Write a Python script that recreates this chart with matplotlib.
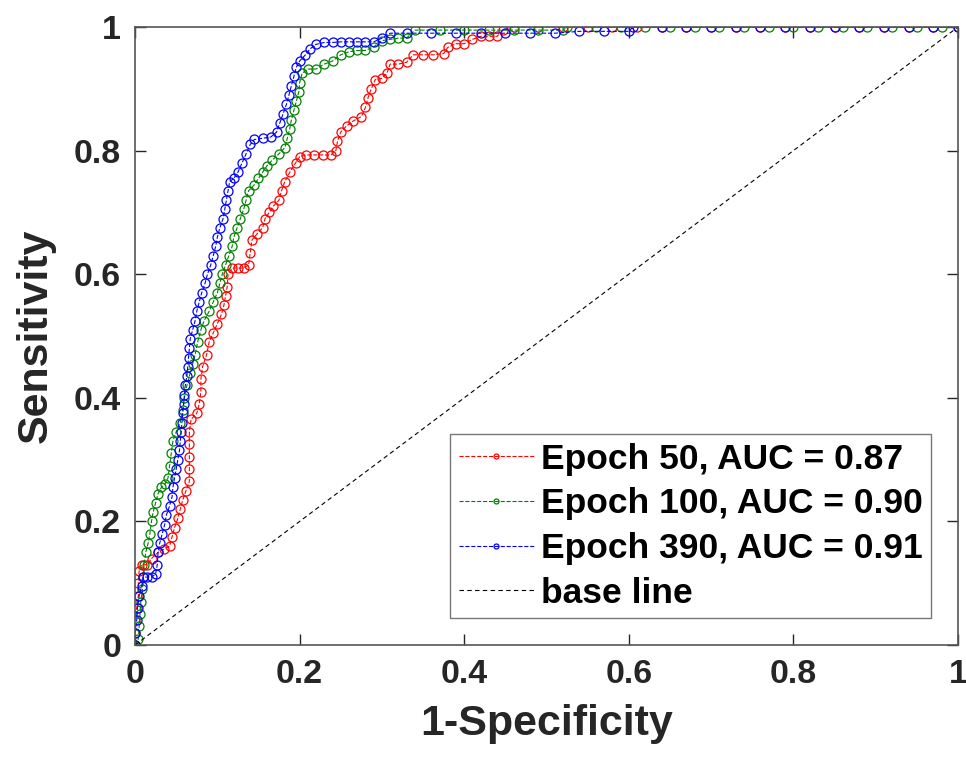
import matplotlib
matplotlib.use("Agg")
import matplotlib.pyplot as plt

plt.rcParams["font.family"] = ["Liberation Sans", "DejaVu Sans"]
plt.rcParams["font.weight"] = "bold"

# ROC points (FPR, TPR)
red_fpr = [0, 0, 0, 0.002, 0.004, 0.004, 0.005, 0.008, 0.015, 0.02, 0.028, 0.035, 0.042, 0.045,
           0.048, 0.052, 0.055, 0.058, 0.062, 0.066, 0.066, 0.066, 0.066, 0.066, 0.068, 0.075,
           0.078, 0.08, 0.08, 0.082, 0.087, 0.09, 0.095, 0.10, 0.105, 0.108, 0.11, 0.112, 0.113,
           0.118, 0.125, 0.132, 0.138, 0.14, 0.142, 0.148, 0.155, 0.158, 0.163, 0.168, 0.175,
           0.178, 0.182, 0.188, 0.195, 0.20, 0.208, 0.218, 0.228, 0.238, 0.244, 0.246, 0.25,
           0.257, 0.265, 0.275, 0.28, 0.283, 0.287, 0.292, 0.30, 0.306, 0.31, 0.32, 0.33, 0.338,
           0.35, 0.362, 0.375, 0.38, 0.39, 0.40, 0.41, 0.42, 0.43, 0.44, 0.447, 0.46, 0.49, 0.52,
           0.55, 0.58, 0.61, 0.64, 0.67, 0.70, 0.73, 0.76, 0.79, 0.82, 0.85, 0.88, 0.91, 0.94,
           0.97, 1.0]
red_tpr = [0, 0.02, 0.04, 0.06, 0.08, 0.10, 0.12, 0.13, 0.13, 0.14, 0.15, 0.155, 0.16, 0.175,
           0.19, 0.205, 0.22, 0.235, 0.25, 0.265, 0.285, 0.305, 0.325, 0.345, 0.365, 0.375,
           0.39, 0.41, 0.43, 0.45, 0.47, 0.49, 0.505, 0.52, 0.535, 0.55, 0.565, 0.58, 0.60,
           0.61, 0.61, 0.61, 0.615, 0.635, 0.655, 0.665, 0.675, 0.69, 0.70, 0.71, 0.72,
           0.735, 0.75, 0.765, 0.78, 0.79, 0.793, 0.793, 0.793, 0.793, 0.80, 0.815, 0.83,
           0.84, 0.848, 0.855, 0.87, 0.885, 0.90, 0.915, 0.917, 0.925, 0.94, 0.94, 0.943, 0.955,
           0.955, 0.955, 0.957, 0.967, 0.973, 0.973, 0.98, 0.985, 0.985, 0.985, 0.995, 1.0, 1.0, 1.0,
           1.0, 1.0, 1.0, 1.0, 1.0, 1.0, 1.0, 1.0, 1.0, 1.0, 1.0, 1.0, 1.0, 1.0,
           1.0, 1.0]

green_fpr = [0, 0.004, 0.005, 0.006, 0.007, 0.009, 0.01, 0.011, 0.013, 0.016, 0.018, 0.02, 0.022,
             0.025, 0.028, 0.032, 0.036, 0.04, 0.042, 0.044, 0.046, 0.05, 0.055, 0.058, 0.06,
             0.063, 0.067, 0.07, 0.073, 0.076, 0.08, 0.084, 0.09, 0.095, 0.10, 0.103, 0.106,
             0.11, 0.114, 0.118, 0.12, 0.124, 0.128, 0.132, 0.135, 0.138, 0.145, 0.15, 0.155,
             0.16, 0.167, 0.175, 0.182, 0.185, 0.188, 0.19, 0.193, 0.196, 0.199, 0.2, 0.203,
             0.21, 0.22, 0.23, 0.24, 0.25, 0.26, 0.27, 0.28, 0.29, 0.30, 0.31, 0.32, 0.33,
             0.34, 0.37, 0.40, 0.43, 0.46, 0.49, 0.52, 0.525, 0.56, 0.59, 0.62, 0.65, 0.68,
             0.71, 0.74, 0.77, 0.80, 0.83, 0.86, 0.89, 0.92, 0.95, 0.98, 1.0]
green_tpr = [0, 0.01, 0.03, 0.05, 0.07, 0.09, 0.11, 0.13, 0.15, 0.165, 0.18, 0.20, 0.215,
             0.23, 0.245, 0.255, 0.26, 0.27, 0.29, 0.31, 0.33, 0.345, 0.36, 0.38, 0.40,
             0.42, 0.44, 0.455, 0.47, 0.49, 0.51, 0.525, 0.54, 0.555, 0.57, 0.585, 0.60,
             0.615, 0.63, 0.645, 0.66, 0.675, 0.69, 0.705, 0.72, 0.735, 0.745, 0.755, 0.765,
             0.775, 0.785, 0.795, 0.805, 0.82, 0.835, 0.85, 0.865, 0.88, 0.895, 0.91, 0.925,
             0.932, 0.932, 0.94, 0.945, 0.955, 0.96, 0.962, 0.962, 0.968, 0.978, 0.98, 0.982, 0.982,
             0.995, 0.995, 0.995, 0.995, 0.995, 0.995, 0.995, 1.0, 1.0, 1.0, 1.0, 1.0, 1.0,
             1.0, 1.0, 1.0, 1.0, 1.0, 1.0, 1.0, 1.0, 1.0, 1.0, 1.0]

blue_fpr = [0, 0, 0.002, 0.003, 0.005, 0.008, 0.01, 0.015, 0.02, 0.025, 0.027, 0.028, 0.03,
            0.033, 0.036, 0.038, 0.042, 0.045, 0.046, 0.048, 0.05, 0.052, 0.054, 0.055, 0.056,
            0.057, 0.058, 0.059, 0.06, 0.061, 0.063, 0.064, 0.065, 0.066, 0.067, 0.07, 0.073,
            0.075, 0.078, 0.081, 0.085, 0.088, 0.092, 0.095, 0.098, 0.10, 0.103, 0.107, 0.109,
            0.111, 0.113, 0.115, 0.12, 0.125, 0.13, 0.135, 0.14, 0.145, 0.155, 0.165, 0.172,
            0.176, 0.18, 0.184, 0.187, 0.19, 0.193, 0.196, 0.20, 0.207, 0.213, 0.22, 0.23,
            0.24, 0.25, 0.26, 0.27, 0.28, 0.29, 0.30, 0.31, 0.33, 0.36, 0.39, 0.42, 0.45, 0.48,
            0.51, 0.54, 0.57, 0.60, 0.605, 0.64, 0.67, 0.70, 0.73, 0.76, 0.79, 0.82, 0.85, 0.88,
            0.91, 0.94, 0.97, 1.0]
blue_tpr = [0, 0.02, 0.04, 0.06, 0.08, 0.095, 0.11, 0.11, 0.11, 0.115, 0.13, 0.15, 0.165,
            0.18, 0.195, 0.21, 0.225, 0.24, 0.255, 0.27, 0.285, 0.30, 0.315, 0.33, 0.345,
            0.36, 0.375, 0.39, 0.405, 0.42, 0.435, 0.45, 0.465, 0.48, 0.495, 0.51, 0.525,
            0.54, 0.555, 0.57, 0.585, 0.60, 0.615, 0.63, 0.645, 0.66, 0.675, 0.69, 0.705,
            0.72, 0.735, 0.75, 0.755, 0.765, 0.78, 0.795, 0.81, 0.818, 0.82, 0.822, 0.83,
            0.845, 0.86, 0.875, 0.89, 0.905, 0.92, 0.935, 0.945, 0.955, 0.965, 0.972, 0.975,
            0.975, 0.976, 0.976, 0.976, 0.976, 0.976, 0.982, 0.99, 0.99, 0.99, 0.99, 0.99, 0.99, 0.99,
            0.99, 0.993, 0.993, 0.993, 1.0, 1.0, 1.0, 1.0, 1.0, 1.0, 1.0, 1.0, 1.0, 1.0,
            1.0, 1.0, 1.0, 1.0]

labels = ["Epoch 50, AUC = 0.87", "Epoch 100, AUC = 0.90", "Epoch 390, AUC = 0.91"]
colors = ["#ff0000", "#008000", "#0000ff"]
ticks = [0, 0.2, 0.4, 0.6, 0.8, 1]
tick_labels = ["0", "0.2", "0.4", "0.6", "0.8", "1"]

fig = plt.figure(figsize=(9.66, 7.61), dpi=100)
ax = fig.add_axes([0.1398, 0.1524, 0.8519, 0.8121])

curves = [(red_fpr, red_tpr), (green_fpr, green_tpr), (blue_fpr, blue_tpr)]
for (fx, ty), lab, c in zip(curves, labels, colors):
    ax.plot(fx, ty, linestyle="--", linewidth=0.8, color=c, marker="o",
            markersize=6.5, markerfacecolor="none", markeredgewidth=0.9, label=lab)
ax.plot([0, 1], [0, 1], linestyle="--", color="black", linewidth=0.8,
        dashes=(4, 3), label="base line")

ax.set_xlim(0, 1)
ax.set_ylim(0, 1)
ax.set_xticks(ticks)
ax.set_xticklabels(tick_labels)
ax.set_yticks(ticks)
ax.set_yticklabels(tick_labels)
ax.tick_params(direction="in", length=8, width=1, colors="#262626", labelsize=24.5,
               top=True, right=True, pad=10)
for s in ax.spines.values():
    s.set_color("#555555")
    s.set_linewidth(1.2)

ax.set_xlabel("1-Specificity", fontsize=31, fontweight="bold", color="#262626", labelpad=10)
ax.set_ylabel("Sensitivity", fontsize=31, fontweight="bold", color="#262626", labelpad=13)

leg = ax.legend(loc="lower right", fontsize=25.5, frameon=True, fancybox=False,
                edgecolor="#555555", handlelength=2.1, borderaxespad=0.75,
                labelspacing=0.33, borderpad=0.25, handletextpad=0.2, markerscale=0.55)
leg.get_frame().set_linewidth(1.0)

fig.savefig("out.png", dpi=100)
